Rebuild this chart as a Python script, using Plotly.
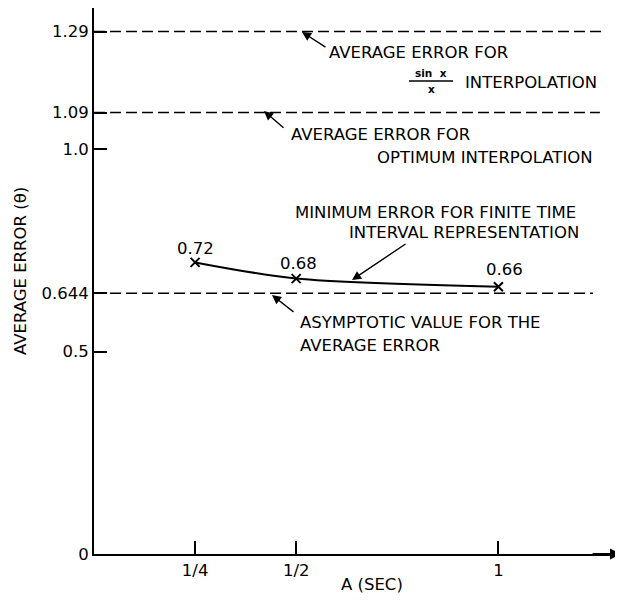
import plotly.graph_objects as go

# ---- data ----
a_sec = [0.25, 0.5, 1.0]
min_error = [0.72, 0.68, 0.66]
point_labels = ["0.72", "0.68", "0.66"]

ref_levels = [1.29, 1.09, 0.644]
ref_line_end = [1.259, 1.251, 1.234]

y_tickvals = [0, 0.5, 0.644, 1.0, 1.09, 1.29]
y_ticktext = ["0", "0.5", "0.644", "1.0", "1.09", "1.29"]
x_tickvals = [0.25, 0.5, 1.0]
x_ticktext = ["1/4", "1/2", "1"]

# ---- geometry (page has an 8px body margin) ----
PAGE_OFF = 8
W, H = 615, 596
PLOT_L, PLOT_R, PLOT_T, PLOT_B = 94, 623, 8, 554   # page pixels
ML = PLOT_L - PAGE_OFF
MT = PLOT_T - PAGE_OFF
MR = (W + PAGE_OFF) - PLOT_R
MB = (H + PAGE_OFF) - PLOT_B
X_PER_UNIT = 404.4
Y_PER_UNIT = 405.0
XMAX = (PLOT_R - PLOT_L) / X_PER_UNIT
YMAX = (PLOT_B - PLOT_T) / Y_PER_UNIT


def dx(px):
    return (px - PLOT_L) / X_PER_UNIT


def dy(py):
    return (PLOT_B - py) / Y_PER_UNIT


def paper_x(px):
    return (px - PLOT_L) / (PLOT_R - PLOT_L)


def paper_y(py):
    return (PLOT_B - py) / (PLOT_B - PLOT_T)


FONT = "DejaVu Sans"
FS = 16.5
TFS = 16.5

fig = go.Figure()

# dashed reference levels
for lvl, xe in zip(ref_levels, ref_line_end):
    fig.add_trace(go.Scatter(
        x=[0, xe], y=[lvl, lvl], mode="lines",
        line=dict(color="black", width=1.6, dash="11px,5px"),
        hoverinfo="skip", showlegend=False))

# minimum error curve
fig.add_trace(go.Scatter(
    x=a_sec, y=min_error, mode="lines+markers",
    line=dict(color="black", width=2, shape="spline", smoothing=0.8),
    marker=dict(symbol="x-thin", size=9, line=dict(color="black", width=2)),
    showlegend=False))

ann = []

# value labels above points
shifts = [(0, 14), (2, 15), (6, 17)]
for xv, yv, t, (xs, ys) in zip(a_sec, min_error, point_labels, shifts):
    ann.append(dict(x=xv, y=yv, text=t, showarrow=False, xshift=xs, yshift=ys,
                    font=dict(family=FONT, size=FS, color="black")))

# text blocks (left px, center py) in page pixels
texts = [
    ("AVERAGE ERROR FOR", 327, 52),
    ("INTERPOLATION", 463, 83),
    ("AVERAGE ERROR FOR", 289, 135),
    ("OPTIMUM INTERPOLATION", 375, 157),
    ("MINIMUM ERROR FOR FINITE TIME", 293, 212),
    ("INTERVAL REPRESENTATION", 347, 232),
    ("ASYMPTOTIC VALUE FOR THE", 298, 322),
    ("AVERAGE ERROR", 298, 345),
]
for t, px, py in texts:
    ann.append(dict(x=paper_x(px), y=paper_y(py), xref="paper", yref="paper",
                    text=t, showarrow=False, xanchor="left", yanchor="middle",
                    font=dict(family=FONT, size=FS, color="black")))

# sin x / x fraction
ann.append(dict(x=paper_x(431), y=paper_y(73), xref="paper", yref="paper",
                text="<b>sin  x</b>", showarrow=False,
                xanchor="center", yanchor="middle",
                font=dict(family=FONT, size=10.5, color="black")))
ann.append(dict(x=paper_x(431), y=paper_y(89), xref="paper", yref="paper",
                text="<b>x</b>", showarrow=False,
                xanchor="center", yanchor="middle",
                font=dict(family=FONT, size=10.5, color="black")))
fig.add_shape(type="line", xref="paper", yref="paper",
              x0=paper_x(409), x1=paper_x(453), y0=paper_y(81), y1=paper_y(81),
              line=dict(color="black", width=1.5))

# arrows: (head px, head py, tail px, tail py) in page pixels
arrows = [
    (302, 32, 327, 48),
    (264, 111, 285, 129),
    (352, 280, 407, 243),
    (272, 295, 295, 313),
]
for hx, hy, tx, ty in arrows:
    ann.append(dict(x=paper_x(hx), y=paper_y(hy), xref="paper", yref="paper",
                    ax=tx - hx, ay=ty - hy, text="",
                    showarrow=True, arrowhead=2, arrowsize=1.3, arrowwidth=1.4,
                    arrowcolor="black", standoff=0, startstandoff=0))

# x-axis arrowhead
ann.append(dict(x=paper_x(621), y=0, xref="paper", yref="paper",
                ax=-30, ay=0, text="", showarrow=True,
                arrowhead=2, arrowsize=1.1, arrowwidth=2, arrowcolor="black",
                standoff=0))

# axis titles
ann.append(dict(x=paper_x(372), y=paper_y(584), xref="paper", yref="paper",
                text="A (SEC)", showarrow=False,
                xanchor="center", yanchor="middle",
                font=dict(family=FONT, size=TFS, color="black")))
ann.append(dict(x=paper_x(20), y=paper_y(271), xref="paper", yref="paper",
                text="AVERAGE ERROR (θ)", showarrow=False,
                textangle=-90, xanchor="center", yanchor="middle",
                font=dict(family=FONT, size=TFS, color="black")))

fig.update_layout(
    width=W, height=H,
    margin=dict(l=ML, r=MR, t=MT, b=MB),
    paper_bgcolor="white", plot_bgcolor="white",
    annotations=ann,
    showlegend=False,
    xaxis=dict(range=[0, XMAX], showgrid=False, zeroline=False,
               showline=True, linecolor="black", linewidth=2,
               ticks="inside", ticklen=13, tickwidth=2, tickcolor="black",
               tickvals=x_tickvals, ticktext=x_ticktext,
               tickfont=dict(family=FONT, size=FS, color="black")),
    yaxis=dict(range=[0, YMAX], showgrid=False, zeroline=False,
               showline=True, linecolor="black", linewidth=2,
               ticks="inside", ticklen=13, tickwidth=2, tickcolor="black",
               tickvals=y_tickvals, ticktext=y_ticktext,
               tickfont=dict(family=FONT, size=FS, color="black")),
)

fig.write_html("out.html")
